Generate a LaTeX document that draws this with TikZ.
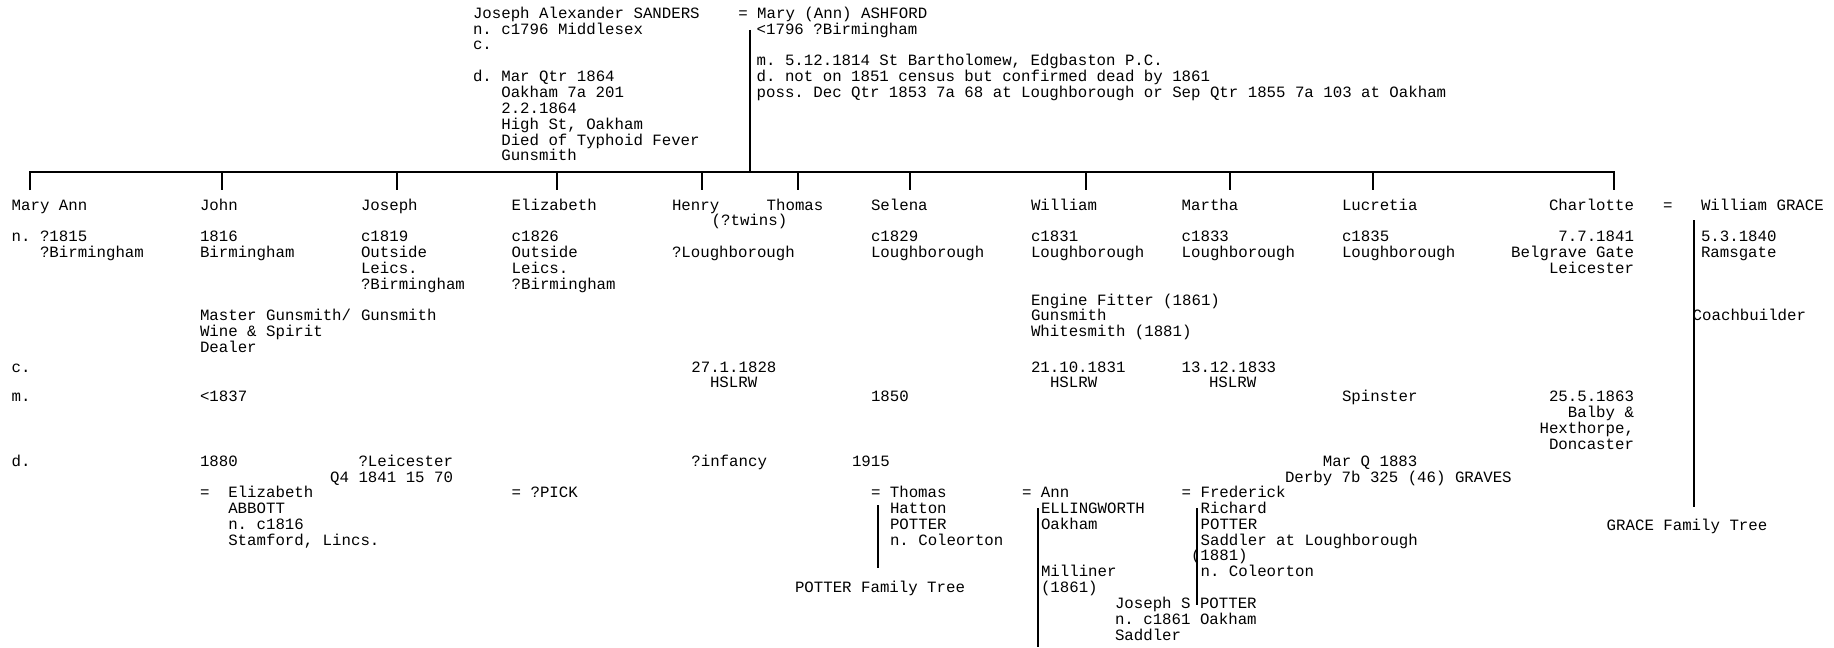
\documentclass[tikz,border=0pt]{standalone}
\usepackage{fontspec}
\newfontfamily\treemono{Liberation Mono}
\tikzset{
  tx/.style={font=\treemono\fontsize{7.87pt}{7.92pt}\selectfont\frenchspacing, inner sep=0pt, outer sep=0pt, anchor=base west, text=black},
  tr/.style={tx, anchor=base east},
  ln/.style={line width=1.25pt, line cap=butt, line join=miter, draw=black},
}
\newcommand\mytx[4]{\node[tx] (#1) at (#2,#3) {#4};}
\newcommand\mytr[4]{\node[tr] (#1) at (#2,#3) {#4};}
\begin{document}
\frenchspacing
\begin{tikzpicture}[x=0.5pt,y=-0.5pt]
\useasboundingbox[fill=white] (0,0) rectangle (1834,647);

% ---------- parents ----------
\mytx{j1}{473}{18.3}{Joseph Alexander SANDERS}
\mytx{j2}{473}{34.1}{n. c1796 Middlesex}
\mytx{j3}{473}{50}{c.}
\mytx{j4}{473}{81.6}{d. Mar Qtr 1864}
\mytx{j5}{501.3}{97.5}{Oakham 7a 201}
\mytx{j6}{501.3}{113.3}{2.2.1864}
\mytx{j7}{501.3}{129.1}{High St, Oakham}
\mytx{j8}{501.3}{145}{Died of Typhoid Fever}
\mytx{j9}{501.3}{160.8}{Gunsmith}

\mytx{m1}{738.3}{18.3}{= Mary (Ann) ASHFORD}
\mytx{m2}{756.7}{34.1}{<1796 ?Birmingham}
\mytx{m3}{756.7}{65.8}{m. 5.12.1814 St Bartholomew, Edgbaston P.C.}
\mytx{m4}{756.7}{81.6}{d. not on 1851 census but confirmed dead by 1861}
\mytx{m5}{756.7}{97.5}{poss. Dec Qtr 1853 7a 68 at Loughborough or Sep Qtr 1855 7a 103 at Oakham}

% ---------- connectors ----------
\coordinate (ptop) at (750,30);
\coordinate (pjoin) at (750,172);
\coordinate (barL) at (30,172);
\coordinate (barR) at (1614,172);
\coordinate (kMA) at (30,190);
\coordinate (kCh) at (1614,190);
\draw[ln] (ptop) -- (pjoin);
\draw[ln] (kMA) -- (barL) -- (barR) -- (kCh);
\foreach \nm/\xx in {kJo/222,kJs/397,kEl/557,kHe/702,kTh/798,kSe/910,kWi/1086,kMa/1230,kLu/1373}{
  \coordinate (\nm) at (\xx,190);
  \draw[ln] (\nm |- barL) -- (\nm);
}

% ---------- children ----------
\mytx{cMA}{11.7}{210}{Mary Ann}
\mytx{cJo}{200}{210}{John}
\mytx{cJs}{361}{210}{Joseph}
\mytx{cEl}{511.7}{210}{Elizabeth}
\mytx{cHe}{672}{210}{Henry}
\mytx{cTh}{766.7}{210}{Thomas}
\mytx{cSe}{871}{210}{Selena}
\mytx{cWi}{1031}{210}{William}
\mytx{cMa}{1181.7}{210}{Martha}
\mytx{cLu}{1342}{210}{Lucretia}
\mytr{cCh}{1634}{210}{Charlotte}
\mytx{eqG}{1663}{210}{=}
\mytx{gW}{1701}{210}{William GRACE}
\mytx{tw}{711.7}{225.8}{(?twins)}

\mytx{b1}{11.7}{241.7}{n. ?1815}
\mytx{b2}{200}{241.7}{1816}
\mytx{b3}{361}{241.7}{c1819}
\mytx{b4}{511.7}{241.7}{c1826}
\mytx{b5}{871}{241.7}{c1829}
\mytx{b6}{1031}{241.7}{c1831}
\mytx{b7}{1181.7}{241.7}{c1833}
\mytx{b8}{1342}{241.7}{c1835}
\mytr{b9}{1634}{241.7}{7.7.1841}
\mytx{b10}{1701}{241.7}{5.3.1840}

\mytx{p1}{40}{257.5}{?Birmingham}
\mytx{p2}{200}{257.5}{Birmingham}
\mytx{p3}{361}{257.5}{Outside}
\mytx{p4}{511.7}{257.5}{Outside}
\mytx{p5}{672}{257.5}{?Loughborough}
\mytx{p6}{871}{257.5}{Loughborough}
\mytx{p7}{1031}{257.5}{Loughborough}
\mytx{p8}{1181.7}{257.5}{Loughborough}
\mytx{p9}{1342}{257.5}{Loughborough}
\mytr{p10}{1634}{257.5}{Belgrave Gate}
\mytx{p11}{1701}{257.5}{Ramsgate}

\mytx{q1}{361}{273.3}{Leics.}
\mytx{q2}{511.7}{273.3}{Leics.}
\mytr{q3}{1634}{273.3}{Leicester}
\mytx{r1}{361}{289.2}{?Birmingham}
\mytx{r2}{511.7}{289.2}{?Birmingham}

% ---------- occupations ----------
\mytx{o1}{1031}{305}{Engine Fitter (1861)}
\mytx{o2}{200}{320.8}{Master Gunsmith/}
\mytx{o3}{361}{320.8}{Gunsmith}
\mytx{o4}{1031}{320.8}{Gunsmith}
\mytx{o5}{1692.7}{320.8}{Coachbuilder}
\mytx{o6}{200}{336.7}{Wine \& Spirit}
\mytx{o7}{1031}{336.7}{Whitesmith (1881)}
\mytx{o8}{200}{352.5}{Dealer}

% ---------- christening ----------
\mytx{lc}{11.7}{372}{c.}
\mytx{c1}{691.4}{372}{27.1.1828}
\mytx{c2}{1031}{372}{21.10.1831}
\mytx{c3}{1181.7}{372}{13.12.1833}
\mytx{h1}{710}{387.5}{HSLRW}
\mytx{h2}{1050}{387.5}{HSLRW}
\mytx{h3}{1209}{387.5}{HSLRW}

% ---------- marriage ----------
\mytx{lm}{11.7}{401}{m.}
\mytx{mm1}{200}{401}{<1837}
\mytx{mm2}{871}{401}{1850}
\mytx{mm3}{1342}{401}{Spinster}
\mytr{mm4}{1634}{401}{25.5.1863}
\mytr{mm5}{1634}{417}{Balby \&}
\mytr{mm6}{1634}{433}{Hexthorpe,}
\mytr{mm7}{1634}{449}{Doncaster}

% ---------- death ----------
\mytx{ld}{11.7}{466}{d.}
\mytx{d1}{200}{466}{1880}
\mytr{d2}{453}{466}{?Leicester}
\mytr{d3}{453}{482}{Q4 1841 15 70}
\mytx{d4}{691.4}{466}{?infancy}
\mytx{d5}{852}{466}{1915}
\mytx{d6}{1322.9}{466}{Mar Q 1883}
\mytx{d7}{1285}{482}{Derby 7b 325 (46) GRAVES}

% ---------- spouses ----------
\mytx{s1}{200}{497.5}{=\ \ Elizabeth}
\mytx{s2}{228.3}{513.3}{ABBOTT}
\mytx{s3}{228.3}{529.2}{n. c1816}
\mytx{s4}{228.3}{545}{Stamford, Lincs.}
\mytx{s5}{511.7}{497.5}{= ?PICK}

\mytx{t1}{871}{497.5}{= Thomas}
\mytx{t2}{890}{513.3}{Hatton}
\mytx{t3}{890}{529.2}{POTTER}
\mytx{t4}{890}{545}{n. Coleorton}
\mytx{t5}{795}{592.5}{POTTER Family Tree}

\mytx{a1}{1022}{497.5}{= Ann}
\mytx{a2}{1041}{513.3}{ELLINGWORTH}
\mytx{a3}{1041}{529.2}{Oakham}
\mytx{a4}{1041}{576.7}{Milliner}
\mytx{a5}{1041}{592.5}{(1861)}

\mytx{f1}{1181.7}{497.5}{= Frederick}
\mytx{f2}{1200.6}{513.3}{Richard}
\mytx{f3}{1200.6}{529.2}{POTTER}
\mytx{f4}{1200.6}{545}{Saddler at Loughborough}
\mytx{f5}{1191}{560.8}{(1881)}
\mytx{f6}{1200.6}{576.7}{n. Coleorton}

\mytx{g1}{1115}{608.3}{Joseph S POTTER}
\mytx{g2}{1115}{624.2}{n. c1861 Oakham}
\mytx{g3}{1115}{640}{Saddler}

\mytx{gr}{1606.7}{530}{GRACE Family Tree}

% ---------- spouse lines ----------
\coordinate (gT) at (1694,220);  \coordinate (gB) at (1694,507);
\coordinate (sT) at (878,505);   \coordinate (sB) at (878,568);
\coordinate (wT) at (1038,508);  \coordinate (wB) at (1038,647);
\coordinate (fT) at (1197,508);  \coordinate (fB) at (1197,605);
\draw[ln] (gT) -- (gB);
\draw[ln] (sT) -- (sB);
\draw[ln] (wT) -- (wB);
\draw[ln] (fT) -- (fB);
\end{tikzpicture}
\end{document}
